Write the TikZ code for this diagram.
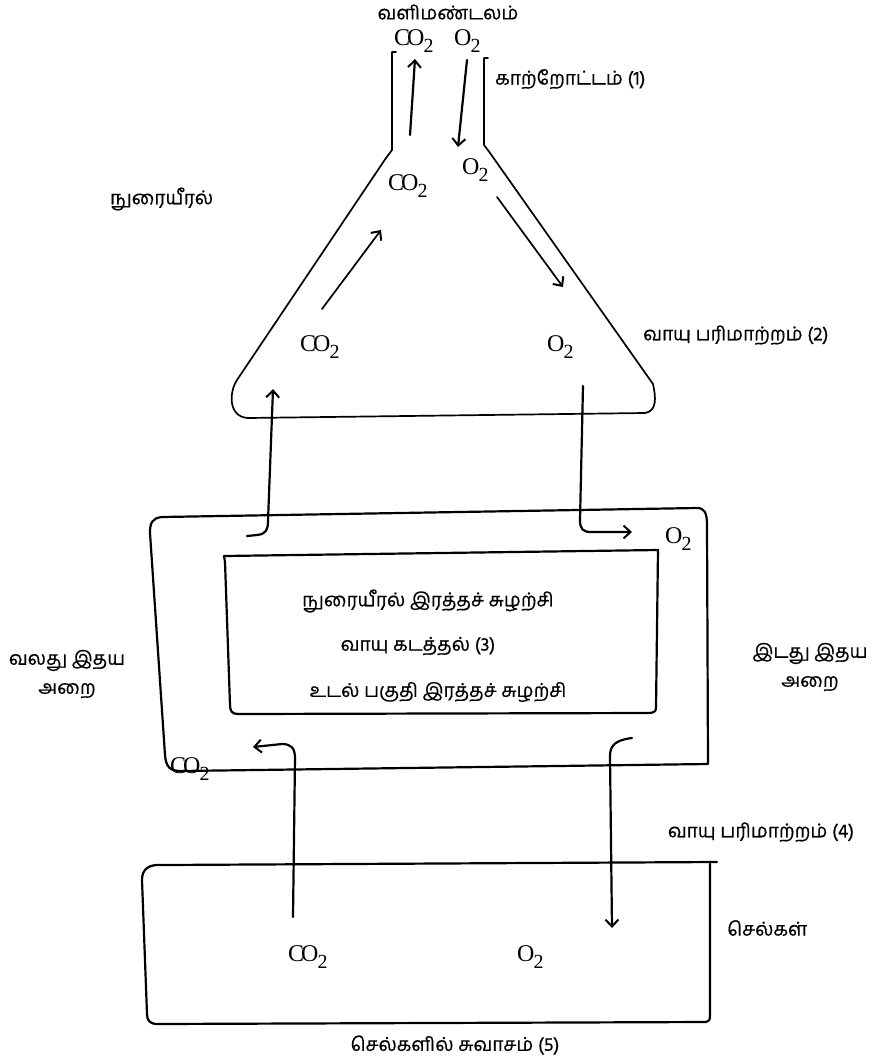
\documentclass[tikz,border=0pt]{standalone}
\usepackage{fontspec}
\newfontfamily\tamil[Script=Tamil,FakeBold=0.5]{Hind Madurai}
\newfontfamily\chemfont{Liberation Serif}
\usetikzlibrary{arrows.meta}
\newcommand{\mychem}[1]{{\chemfont\fontsize{24}{24}\selectfont #1\kern-0.8pt{\fontsize{20}{20}\selectfont\raisebox{-7.5pt}{2}}}}
\newcommand{\myCO}{\mychem{C\kern-3pt O}}
\newcommand{\myO}{\mychem{O}}
\begin{document}
\begin{tikzpicture}[x=1pt,y=-1pt,
  tl/.style={font=\tamil\fontsize{19}{29}\selectfont, inner sep=0pt},
  chem/.style={inner sep=0pt, anchor=base west},
  wall/.style={line width=2.2pt, line cap=round, line join=round},
  thin/.style={line width=1.7pt, line cap=round, line join=round},
  arr/.style={-{Straight Barb[length=7pt,width=13pt,line width=2pt]}}]
\useasboundingbox (0,0) rectangle (871,1061);
\fill[white] (0,0) rectangle (871,1061);

% ---------- labels ----------
\node[tl] (atm) at (448,12) {வளிமண்டலம்};
\node[chem] (co2a) at (394,45) {\myCO};
\node[chem] (o2a) at (454,45) {\myO};
\node[tl,anchor=west] (vent) at (495,79) {காற்றோட்டம் (1)};
\node[tl,anchor=west] (lung) at (110,199) {நுரையீரல்};
\node[chem] (co2b) at (388,190) {\myCO};
\node[chem] (o2b) at (462,174) {\myO};
\node[chem] (co2c) at (300,351) {\myCO};
\node[chem] (o2c) at (547,351) {\myO};
\node[tl,anchor=west] (gx2) at (643,335) {வாயு பரிமாற்றம் (2)};
\node[chem] (o2d) at (665,543) {\myO};
\node[chem] (co2d) at (170,773) {\myCO};
\node[tl] (t1) at (428,601) {நுரையீரல் இரத்தச் சுழற்சி};
\node[tl] (t2) at (418,646) {வாயு கடத்தல் (3)};
\node[tl] (t3) at (438,692) {உடல் பகுதி இரத்தச் சுழற்சி};
\node[tl,align=center] (rh) at (67,674) {வலது இதய\\அறை};
\node[tl,align=center] (lh) at (810,667) {இடது இதய\\அறை};
\node[tl] (gx4) at (761,832) {வாயு பரிமாற்றம் (4)};
\node[tl,anchor=west] (cells) at (727,928) {செல்கள்};
\node[tl] (resp) at (455,1045) {செல்களில் சுவாசம் (5)};
\node[chem] (co2e) at (288,961) {\myCO};
\node[chem] (o2e) at (517,961) {\myO};

% ---------- lung (funnel + triangle) ----------
\draw[thin] (396,52) -- (392,52) -- (392,150) -- (386,158) -- (237,380)
  .. controls (229,392) and (228,417) .. (248,418)
  -- (645,413) .. controls (657,411) and (656,398) .. (653,384)
  -- (490,153) -- (484,145) -- (484,58) -- (488,58);

% ---------- heart boxes ----------
\draw[wall] (162,517) .. controls (152,518) and (150,523) .. (150,533)
  -- (165,755) .. controls (166,767) and (170,771) .. (181,771)
  -- (708,764) -- (707,525) .. controls (707,512) and (704,508) .. (697,508)
  -- cycle;
\draw[wall] (224,556) -- (658,550) -- (656,708)
  .. controls (656,712) and (653,713) .. (648,713)
  -- (238,714) .. controls (232,714) and (230,711) .. (230,705)
  -- (225,562) -- cycle;

% ---------- cells box ----------
\draw[wall] (717,862) -- (163,865) .. controls (150,864) and (142,868) .. (142,880)
  -- (147,1014) .. controls (147,1021) and (150,1024) .. (158,1024)
  -- (706,1022) .. controls (709,1022) and (710,1020) .. (710,1015) -- (710,864);

% ---------- arrows ----------
\coordinate (a1s) at (410,135); \coordinate (a1e) at (415,59);
\coordinate (a2s) at (467,60);  \coordinate (a2e) at (458,147);
\coordinate (a3s) at (322,309); \coordinate (a3e) at (381,230);
\coordinate (a4s) at (497,197); \coordinate (a4e) at (563,287);
\draw[wall,arr] (a1s) -- (a1e);
\draw[wall,arr] (a2s) -- (a2e);
\draw[thin,arr] (a3s) -- (a3e);
\draw[thin,arr] (a4s) -- (a4e);

\coordinate (b1s) at (247,536); \coordinate (b1e) at (273,389);
\draw[wall,arr] (b1s) -- (257,535) .. controls (266,534) and (268,530) .. (268,521) -- (b1e);
\coordinate (b2s) at (583,386); \coordinate (b2e) at (632,532);
\draw[wall,arr] (b2s) -- (580,520) .. controls (580,529) and (583,532) .. (591,532) -- (b2e);
\coordinate (b3s) at (293,917); \coordinate (b3e) at (253,747);
\draw[wall,arr] (b3s) -- (295,758) .. controls (295,748) and (291,744) .. (282,744) -- (b3e);
\coordinate (b4s) at (632,738); \coordinate (b4e) at (612,928);
\draw[wall,arr] (b4s) .. controls (616,740) and (610,745) .. (610,756) -- (b4e);
\end{tikzpicture}
\end{document}
